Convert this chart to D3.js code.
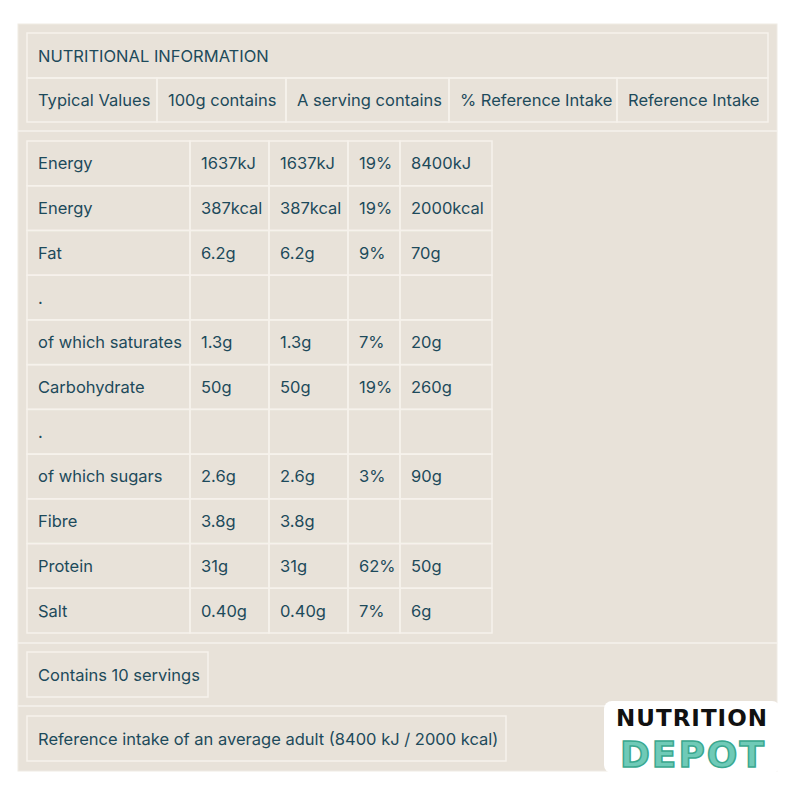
<!DOCTYPE html>
<html>
<head>
<meta charset="utf-8">
<script src="https://cdn.jsdelivr.net/npm/d3@7"></script>
<style>
body { margin: 0; background: #fff; }
text { font-family: Inter, "Open Sans", sans-serif; font-size: 16.5px; fill: #1d4a5b; }
</style>
</head>
<body>
<script>
const title = "NUTRITIONAL INFORMATION";
const headers = ["Typical Values", "100g contains", "A serving contains", "% Reference Intake", "Reference Intake"];
const nutrients = ["Energy", "Energy", "Fat", ".", "of which saturates", "Carbohydrate", ".", "of which sugars", "Fibre", "Protein", "Salt"];
const per100g = ["1637kJ", "387kcal", "6.2g", "", "1.3g", "50g", "", "2.6g", "3.8g", "31g", "0.40g"];
const perServing = ["1637kJ", "387kcal", "6.2g", "", "1.3g", "50g", "", "2.6g", "3.8g", "31g", "0.40g"];
const pctRI = ["19%", "19%", "9%", "", "7%", "19%", "", "3%", "", "62%", "7%"];
const refIntake = ["8400kJ", "2000kcal", "70g", "", "20g", "260g", "", "90g", "", "50g", "6g"];
const footnotes = ["Contains 10 servings", "Reference intake of an average adult (8400 kJ / 2000 kcal)"];

const svg = d3.select("body").append("svg").attr("width", 800).attr("height", 800);
const line = "#f6f2ec";

svg.append("rect").attr("x", 18).attr("y", 24).attr("width", 759).attr("height", 747)
    .attr("fill", "#e8e2d9").attr("stroke", "#efebe4");

function cell(x, y, w, h, label) {
    svg.append("rect").attr("x", x).attr("y", y).attr("width", w).attr("height", h)
        .attr("fill", "none").attr("stroke", line).attr("stroke-width", 1.5);
    if (label !== undefined)
        svg.append("text").attr("x", x + 11).attr("y", y + h / 2 + 6).text(label);
}

// header block
cell(27, 33, 741, 45, title);
const hx = [27, 157, 286, 449, 617, 768];
headers.forEach((h, i) => cell(hx[i], 78, hx[i + 1] - hx[i], 44, h));

svg.append("line").attr("x1", 18).attr("x2", 777).attr("y1", 131).attr("y2", 131)
    .attr("stroke", line).attr("stroke-width", 1.5);

// data table
const cols = [nutrients, per100g, perServing, pctRI, refIntake];
const cx = [27, 190, 269, 348, 400, 492];
const y = d3.scaleBand().domain(d3.range(nutrients.length)).range([141, 633]);
nutrients.forEach((_, r) => {
    cols.forEach((col, c) => cell(cx[c], y(r), cx[c + 1] - cx[c], y.bandwidth(), col[r]));
});

svg.append("line").attr("x1", 18).attr("x2", 777).attr("y1", 643).attr("y2", 643)
    .attr("stroke", line).attr("stroke-width", 1.5);
cell(27, 652, 181, 45, footnotes[0]);
svg.append("line").attr("x1", 18).attr("x2", 777).attr("y1", 706).attr("y2", 706)
    .attr("stroke", line).attr("stroke-width", 1.5);
cell(27, 716, 479, 45, footnotes[1]);

// logo
const logo = svg.append("g");
logo.append("rect").attr("x", 604).attr("y", 701).attr("width", 176).attr("height", 72)
    .attr("rx", 8).attr("fill", "#fff");
logo.append("text").attr("x", 692).attr("y", 726).attr("text-anchor", "middle")
    .style("font-family", "'DejaVu Sans', sans-serif").style("font-weight", "bold")
    .style("font-size", "23px").style("fill", "#111").style("letter-spacing", "1px").text("NUTRITION");
logo.append("text").attr("x", 693).attr("y", 767).attr("text-anchor", "middle")
    .style("font-family", "'DejaVu Sans', sans-serif").style("font-weight", "bold")
    .style("font-size", "36px").style("fill", "#6fcab7").style("stroke", "#3aa88f")
    .style("stroke-width", "1.5px").style("letter-spacing", "2px").text("DEPOT");
</script>
</body>
</html>
